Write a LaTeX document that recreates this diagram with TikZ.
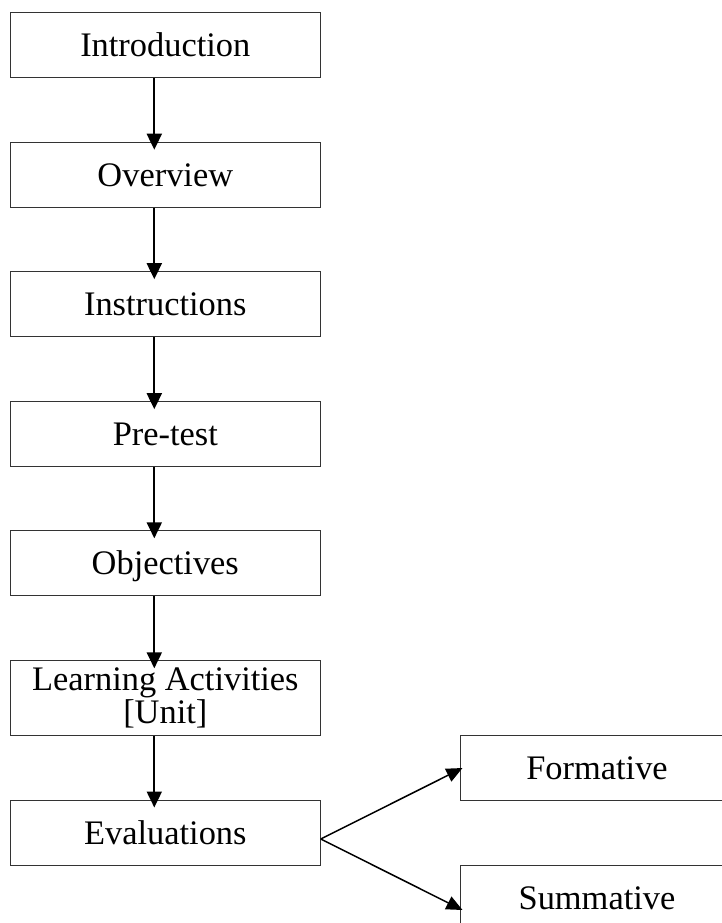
\documentclass[tikz,border=0pt]{standalone}
\usepackage{fontspec}
\setmainfont{Liberation Serif}
\usetikzlibrary{arrows.meta,calc}
\begin{document}
\begin{tikzpicture}[x=1pt,y=-1pt,
  stepbox/.style={draw=black!80,line width=1pt,minimum width=310pt,minimum height=65pt,inner sep=0pt,
    font=\fontsize{34.4}{33}\selectfont,text height=23pt,text depth=0pt},
  vflow/.style={line width=2pt,-{Triangle[length=16pt,width=15pt]}},
  dflow/.style={line width=1.5pt,-{Triangle[length=16pt,width=14pt]}}]
\useasboundingbox (0,0) rectangle (722,923);
\begin{scope}
\clip (0,0) rectangle (722,923);
\node[stepbox] (intro) at (165.3,44.8) {Introduction};
\node[stepbox] (ov) at (165.3,174.7) {Overview};
\node[stepbox] (ins) at (165.3,304.2) {Instructions};
\node[stepbox] (pre) at (165.3,434.2) {Pre-test};
\node[stepbox] (obj) at (165.3,563.3) {Objectives};
\node[stepbox,minimum height=75pt,align=center,text height=,text depth=] (learn) at (165.3,698.3) {Learning Activities\\{}[Unit]};
\node[stepbox] (eval) at (165.3,832.5) {Evaluations};
\node[stepbox,minimum width=274pt] (form) at (597,768) {Formative};
\node[stepbox,minimum width=274pt] (summ) at (597,897.5) {Summative};
\end{scope}
\foreach \a/\b in {intro/ov,ov/ins,ins/pre,pre/obj,obj/learn,learn/eval}{
  \draw[vflow] ($(\a.south)+(-11,0)$) -- ($(\b.north)+(-11,8)$);
}
\coordinate (fork) at ($(eval.east)+(0,6.5)$);
\draw[dflow] (fork) -- ($(form.west)+(3,0)$);
\draw[dflow] (fork) -- ($(summ.west)+(3,12.5)$);
\end{tikzpicture}
\end{document}
